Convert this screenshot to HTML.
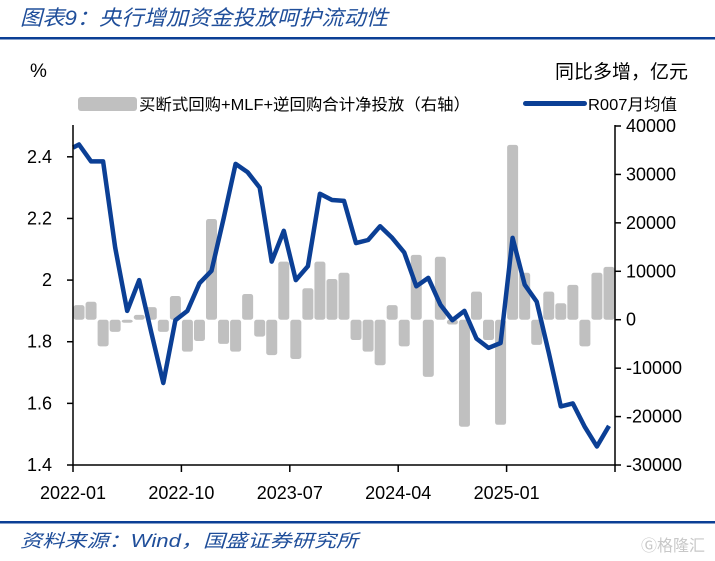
<!DOCTYPE html>
<html><head><meta charset="utf-8"><style>
body{margin:0;background:#fff;}
svg{display:block;font-family:"Liberation Sans","Noto Sans CJK SC",sans-serif;}
</style></head><body>
<svg id="c" width="715" height="561" viewBox="0 0 715 561" xmlns="http://www.w3.org/2000/svg">
<text x="20" y="25" font-size="21" font-style="italic" fill="#1f4e9a" textLength="368" lengthAdjust="spacingAndGlyphs">图表9：央行增加资金投放呵护流动性</text>
<rect x="0" y="37" width="715" height="2.5" fill="#0b3f95"/>
<text x="30" y="77" font-size="19" fill="#000">%</text>
<text x="688" y="78" font-size="19" fill="#000" text-anchor="end">同比多增，亿元</text>
<g>
<rect x="78" y="97" width="59" height="14" fill="#c0c0c0" rx="3"/>
<text x="139" y="110" font-size="16" fill="#000" textLength="331" lengthAdjust="spacingAndGlyphs">买断式回购+MLF+逆回购合计净投放（右轴）</text>
<rect x="523" y="101" width="64" height="5" fill="#0b3f95" rx="2.5"/>
<text x="588" y="110" font-size="16" fill="#000" textLength="89" lengthAdjust="spacingAndGlyphs">R007月均值</text>
</g>
<g id="plot"></g>
<rect x="0" y="521" width="715" height="2.5" fill="#0b3f95"/>
<text x="20" y="547" font-size="18" font-style="italic" fill="#1f4e9a" textLength="338" lengthAdjust="spacingAndGlyphs">资料来源：Wind，国盛证券研究所</text>
<text x="705" y="551" font-size="16" fill="#c8c8c8" text-anchor="end">Ⓖ格隆汇</text>
</svg>
<script>
const months = ["2022-01","2022-10","2023-07","2024-04","2025-01"];
const leftTicks = [1.4,1.6,1.8,2,2.2,2.4];
const rightTicks = [-30000,-20000,-10000,0,10000,20000,30000,40000];
const r007 = [2.44,2.385,2.385,2.105,1.90,2.00,1.83,1.666,1.87,1.90,1.99,2.03,2.20,2.377,2.35,2.30,2.06,2.16,2.00,2.045,2.28,2.26,2.257,2.12,2.13,2.175,2.137,2.09,1.98,2.007,1.92,1.87,1.90,1.81,1.78,1.796,2.137,1.985,1.93,1.764,1.59,1.60,1.523,1.46,1.527];
const netInjection = [3000,3700,-5500,-2500,0,1000,2600,-2500,4900,-6600,-4400,20800,-5000,-6600,5300,-3500,-7300,12000,-8100,6500,12000,8400,9700,-4200,-6600,-9400,3000,-5500,13400,-11800,13000,-1000,-22100,5800,-4200,-21700,36100,9700,-5200,5800,3400,7200,-5500,9700,10900];

const NS="http://www.w3.org/2000/svg";
const plot=document.getElementById('plot');
const X0=73,X1=615,YT=126,YB=465,N=45;
const slot=(X1-X0)/N;
const xAt=i=>X0+(i+0.5)*slot;
const yL=v=>YB-(v-1.4)/1.1*(YB-YT);
const yR=v=>YB-(v+30000)/70000*(YB-YT);
function mk(tag,attrs){const e=document.createElementNS(NS,tag);for(const k in attrs)e.setAttribute(k,attrs[k]);plot.appendChild(e);return e;}

netInjection.forEach((v,i)=>{
  const y0=yR(0),y1=yR(v);
  const r=mk('rect',{x:xAt(i)-5.5,y:Math.min(y0,y1),width:11,height:Math.max(Math.abs(y1-y0),3),fill:'#c0c0c0',rx:2.5});
  
  
});
const pts=r007.map((v,i)=>xAt(i).toFixed(1)+','+yL(v).toFixed(1));
pts.unshift(X0+','+yL(2.43).toFixed(1));
const pl=mk('polyline',{points:pts.join(' '),fill:'none',stroke:'#0b3f95','stroke-width':4.5,'stroke-linejoin':'round'});



const ax=mk('path',{d:`M${X0},${YT-1}V${YB}H${X1}V${YT-1}`,fill:'none',stroke:'#000','stroke-width':1.5});


leftTicks.forEach(v=>{
  const y=yL(v);
  const t=mk('line',{x1:X0-6,x2:X0,y1:y,y2:y,stroke:'#000','stroke-width':1.5});
  
  
  const l=mk('text',{x:52,y:y+6,'font-size':18,'text-anchor':'end',fill:'#000'});
  l.textContent=String(v);
  
  
});
rightTicks.forEach(v=>{
  const y=yR(v);
  const t=mk('line',{x1:X1,x2:X1+6,y1:y,y2:y,stroke:'#000','stroke-width':1.5});
  
  
  const l=mk('text',{x:626,y:y+6,'font-size':18,fill:'#000'});
  l.textContent=String(v);
  
  
});
for(let k=0;k<=5;k++){
  const x=X0+k*9*slot;
  const t=mk('line',{x1:x,x2:x,y1:YB,y2:YB+7,stroke:'#000','stroke-width':1.5});
  
  
}
months.forEach((m,k)=>{
  const l=mk('text',{x:X0+k*9*slot,y:499,'font-size':18,'text-anchor':'middle',fill:'#000'});
  l.textContent=m;
  
  
});
</script>
</body></html>
